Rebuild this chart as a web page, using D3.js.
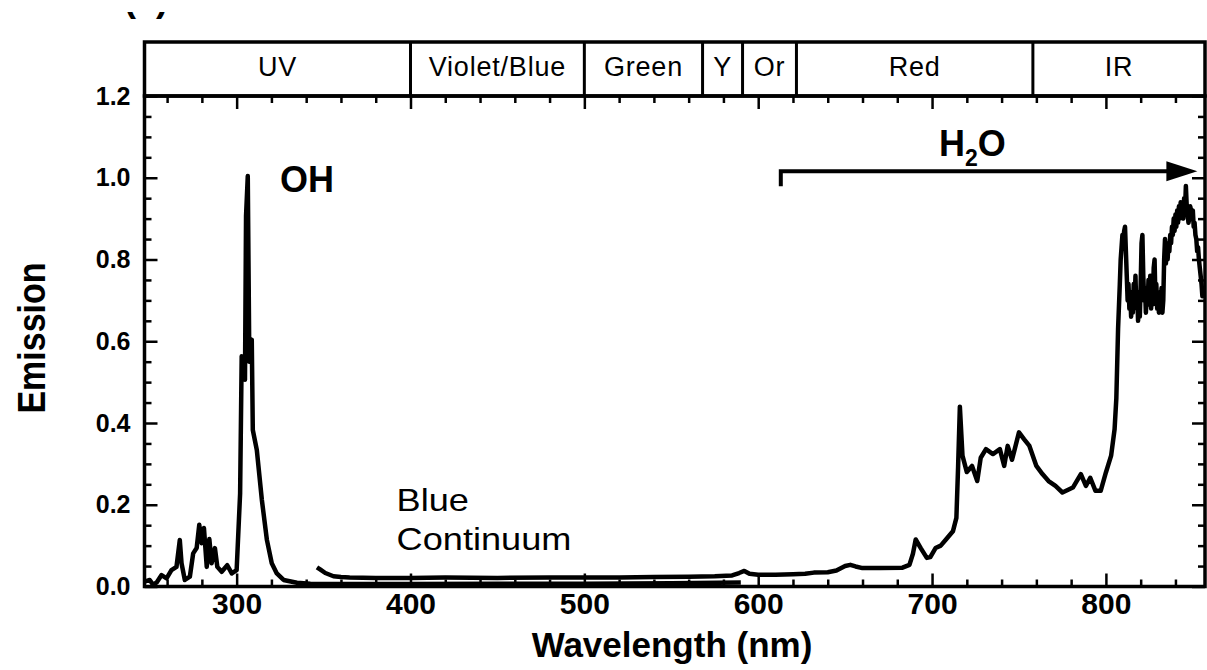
<!DOCTYPE html>
<html lang="en">
<head>
<meta charset="utf-8">
<title>Emission spectrum</title>
<script src="https://cdn.jsdelivr.net/npm/d3@7"></script>
<style>
  body { margin: 0; background: #fff; }
  svg text { font-family: "Liberation Sans", Arial, Helvetica, sans-serif; fill: #000; }
</style>
</head>
<body>
<div id="chart"></div>
<script>
// UV spectrometer trace (OH band)
var uvNm = [247, 250, 252, 254, 256.8, 259.7, 262.5, 265.4, 267.3, 268.3, 270.2, 273.1, 275, 277, 278.5,
            279.9, 281.2, 282.8, 284.3, 285.6, 287.5, 288.9, 291.4, 294.6, 297.2, 300, 302, 302.9, 304.8,
            305.4, 306.4, 307.3, 308.7, 309.3, 311.6, 314.5, 317.4, 320.2, 323.1, 327, 334.7, 342.4, 360,
            400, 450, 500, 550, 590];
var uvVal = [0.012, 0.016, 0.004, 0.010, 0.028, 0.020, 0.040, 0.048, 0.114, 0.057, 0.016, 0.024, 0.081, 0.094, 0.151,
             0.106, 0.143, 0.048, 0.116, 0.057, 0.094, 0.048, 0.036, 0.052, 0.032, 0.040, 0.228, 0.563, 0.506,
             0.906, 1.004, 0.550, 0.604, 0.383, 0.334, 0.212, 0.114, 0.057, 0.032, 0.016, 0.009, 0.007, 0.006,
             0.006, 0.007, 0.007, 0.008, 0.010];

// visible trace (blue continuum up to the start of the IR water band)
var visNm = [346.2, 348, 351, 355.7, 360, 365, 380, 400, 420, 450, 480, 500, 520, 540, 560, 575, 585, 589, 592,
             595, 600, 610, 620, 627, 632, 640, 645, 650, 653, 656, 660, 670, 683, 687, 689, 690.6, 693.5, 697,
             699, 702, 705, 708, 712, 714, 715, 716, 717.5, 720, 723, 726, 728, 731, 735, 739, 741.5, 743.5, 746,
             750, 753, 756, 760, 763.5, 767, 771, 775, 781, 785.6, 788.5, 791, 794, 797, 800, 803, 805, 806, 807,
             808];
var visVal = [0.047, 0.042, 0.033, 0.025, 0.023, 0.022, 0.021, 0.021, 0.022, 0.021, 0.022, 0.022, 0.022, 0.023, 0.024,
              0.025, 0.027, 0.033, 0.038, 0.031, 0.029, 0.029, 0.030, 0.031, 0.034, 0.035, 0.039, 0.050, 0.053, 0.049,
              0.045, 0.045, 0.046, 0.053, 0.080, 0.115, 0.094, 0.070, 0.072, 0.094, 0.100, 0.115, 0.135, 0.168, 0.295,
              0.440, 0.320, 0.280, 0.295, 0.258, 0.315, 0.336, 0.324, 0.336, 0.295, 0.344, 0.310, 0.377, 0.360, 0.344,
              0.295, 0.275, 0.258, 0.246, 0.230, 0.242, 0.275, 0.246, 0.266, 0.234, 0.234, 0.279, 0.320, 0.385, 0.460,
              0.630, 0.740];

// same trace, noisy IR part, read every 0.5 nm from 808.5 to 857 nm
var irNm = d3.range(808.5, 857.01, 0.5);
var irVal = [0.80, 0.83, 0.86, 0.85, 0.87, 0.88, 0.82, 0.76, 0.70, 0.74,
             0.68, 0.72, 0.66, 0.71, 0.67, 0.74, 0.69, 0.76, 0.68, 0.72,
             0.65, 0.70, 0.66, 0.74, 0.84, 0.86, 0.76, 0.70, 0.73, 0.67,
             0.72, 0.69, 0.75, 0.70, 0.76, 0.68, 0.73, 0.69, 0.78, 0.80,
             0.70, 0.74, 0.68, 0.72, 0.67, 0.71, 0.68, 0.73, 0.67, 0.70,
             0.80, 0.85, 0.79, 0.83, 0.80, 0.84, 0.82, 0.86, 0.84, 0.88,
             0.86, 0.90, 0.87, 0.91, 0.88, 0.92, 0.89, 0.93, 0.90, 0.94,
             0.91, 0.93, 0.90, 0.95, 0.92, 0.98, 0.93, 0.91, 0.89, 0.90,
             0.93, 0.92, 0.90, 0.92, 0.88, 0.89, 0.86, 0.85, 0.82, 0.83,
             0.80, 0.78, 0.76, 0.74, 0.71, 0.73, 0.72, 0.72];

var bandNames = ["UV", "Violet/Blue", "Green", "Y", "Or", "Red", "IR"];
var bandEdges = [247, 400, 500, 568, 591, 622, 758, 857];

var xMajor = [300, 400, 500, 600, 700, 800];
var xLabels = ["300", "400", "500", "600", "700", "800"];
var yMajor = [0, 0.2, 0.4, 0.6, 0.8, 1.0, 1.2];
var yLabels = ["0.0", "0.2", "0.4", "0.6", "0.8", "1.0", "1.2"];

var W = 1207, H = 670;
var pLeft = 144.5, pRight = 1205, pTop = 96, pBottom = 586.5, bandTop = 42;

var svg = d3.select("#chart").append("svg").attr("width", W).attr("height", H);

var x = d3.scaleLinear().domain([247, 857]).range([pLeft, pRight]);
var y = d3.scaleLinear().domain([0, 1.2]).range([pBottom, pTop]);

svg.append("clipPath").attr("id", "plotclip")
  .append("rect").attr("x", pLeft).attr("y", pTop).attr("width", pRight - pLeft).attr("height", pBottom - pTop);
svg.append("clipPath").attr("id", "topclip")
  .append("rect").attr("x", 0).attr("y", 12).attr("width", 300).attr("height", 20);

// panel letter, mostly cut off at the top of the figure
svg.append("text").attr("x", 124).attr("y", 10.5)
  .attr("clip-path", "url(#topclip)")
  .style("font-size", "36px").style("font-weight", "bold")
  .text("(a)");

// spectra
var line = d3.line().x(function (d) { return x(d[0]); }).y(function (d) { return y(d[1]); });
var uvData = uvNm.map(function (n, i) { return [n, uvVal[i]]; });
var visData = visNm.map(function (n, i) { return [n, visVal[i]]; })
  .concat(irNm.map(function (n, i) { return [n, irVal[i]]; }));
var traces = svg.append("g").attr("clip-path", "url(#plotclip)");
[uvData, visData].forEach(function (d) {
  traces.append("path").datum(d).attr("d", line)
    .attr("fill", "none").attr("stroke", "#000").attr("stroke-width", 4.5)
    .attr("stroke-linejoin", "round");
});

// ticks, all pointing inward
var minorX = d3.range(260, 857, 20).filter(function (v) { return v % 100 != 0; });
var minorY = d3.range(0.05, 1.2, 0.05).filter(function (v) { return Math.abs(v / 0.2 - Math.round(v / 0.2)) > 0.01; });

function tickStyle(g) {
  g.select(".domain").remove();
  g.selectAll(".tick line").attr("stroke", "#000").attr("stroke-width", 2.5);
}

svg.append("g").attr("transform", "translate(0," + pBottom + ")")
  .call(d3.axisBottom(x).tickValues(xMajor).tickSize(-13).tickPadding(6)
    .tickFormat(function (d, i) { return xLabels[i]; }))
  .call(tickStyle)
  .selectAll("text").style("font-size", "30px").style("font-weight", "bold")
  .style("font-family", "'Liberation Sans', Arial, sans-serif");
svg.append("g").attr("transform", "translate(0," + pBottom + ")")
  .call(d3.axisBottom(x).tickValues(minorX).tickSize(-7).tickFormat("")).call(tickStyle);
svg.append("g").attr("transform", "translate(0," + pTop + ")")
  .call(d3.axisTop(x).tickValues(xMajor).tickSize(-13).tickFormat("")).call(tickStyle);
svg.append("g").attr("transform", "translate(0," + pTop + ")")
  .call(d3.axisTop(x).tickValues(minorX).tickSize(-7).tickFormat("")).call(tickStyle);

svg.append("g").attr("transform", "translate(" + pLeft + ",0)")
  .call(d3.axisLeft(y).tickValues(yMajor).tickSize(-13).tickPadding(14)
    .tickFormat(function (d, i) { return yLabels[i]; }))
  .call(tickStyle)
  .selectAll("text").style("font-size", "25px").style("font-weight", "bold")
  .style("font-family", "'Liberation Sans', Arial, sans-serif");
svg.append("g").attr("transform", "translate(" + pLeft + ",0)")
  .call(d3.axisLeft(y).tickValues(minorY).tickSize(-7).tickFormat("")).call(tickStyle);
svg.append("g").attr("transform", "translate(" + pRight + ",0)")
  .call(d3.axisRight(y).tickValues(yMajor).tickSize(-13).tickFormat("")).call(tickStyle);
svg.append("g").attr("transform", "translate(" + pRight + ",0)")
  .call(d3.axisRight(y).tickValues(minorY).tickSize(-7).tickFormat("")).call(tickStyle);

// frame
svg.append("rect").attr("x", pLeft).attr("y", pTop).attr("width", pRight - pLeft).attr("height", pBottom - pTop)
  .attr("fill", "none").attr("stroke", "#000").attr("stroke-width", 3.5);

// colour band header
var bands = svg.append("g");
bands.append("rect").attr("x", pLeft).attr("y", bandTop).attr("width", pRight - pLeft).attr("height", pTop - bandTop)
  .attr("fill", "none").attr("stroke", "#000").attr("stroke-width", 3.5);
bands.selectAll("line.edge").data(bandEdges.slice(1, -1)).enter().append("line")
  .attr("x1", function (d) { return x(d); }).attr("x2", function (d) { return x(d); })
  .attr("y1", bandTop).attr("y2", pTop)
  .attr("stroke", "#000").attr("stroke-width", 3);
bands.selectAll("text").data(bandNames).enter().append("text")
  .attr("x", function (d, i) { return (x(bandEdges[i]) + x(bandEdges[i + 1])) / 2; })
  .attr("y", 76)
  .attr("text-anchor", "middle")
  .style("font-size", "27px").style("letter-spacing", "0.8px")
  .text(function (d) { return d; });

// annotations
svg.append("text").attr("x", x(325)).attr("y", y(0.964))
  .style("font-size", "36px").style("font-weight", "bold").text("OH");

var blue = svg.append("text")
  .attr("transform", "translate(" + x(392) + "," + y(0.184) + ") scale(1.13,1)")
  .style("font-size", "32px");
blue.append("tspan").attr("x", 0).text("Blue");
blue.append("tspan").attr("x", 0).attr("dy", 39).text("Continuum");

var h2o = svg.append("text").attr("x", x(704)).attr("y", y(1.052))
  .style("font-size", "36px").style("font-weight", "bold");
h2o.append("tspan").text("H");
h2o.append("tspan").attr("dy", 10).style("font-size", "23px").text("2");
h2o.append("tspan").attr("dy", -10).text("O");

// H2O arrow
var arrowStart = 613, arrowEnd = 852.6, arrowY = 1.016, arrowFoot = 0.979;
svg.append("path")
  .attr("d", "M" + x(arrowStart) + "," + y(arrowFoot) + "V" + y(arrowY) + "H" + (x(arrowEnd) - 20))
  .attr("fill", "none").attr("stroke", "#000").attr("stroke-width", 4);
svg.append("path")
  .attr("d", "M" + x(arrowEnd) + "," + y(arrowY) + "L" + (x(arrowEnd) - 31) + "," + (y(arrowY) - 10) +
    "L" + (x(arrowEnd) - 31) + "," + (y(arrowY) + 10) + "Z")
  .attr("fill", "#000");

// axis titles
svg.append("text").attr("x", 672).attr("y", 657).attr("text-anchor", "middle")
  .style("font-size", "35px").style("font-weight", "bold").text("Wavelength (nm)");
svg.append("text").attr("transform", "translate(45,338) rotate(-90) scale(1,1.12)").attr("text-anchor", "middle")
  .style("font-size", "34px").style("font-weight", "bold").text("Emission");
</script>
</body>
</html>
